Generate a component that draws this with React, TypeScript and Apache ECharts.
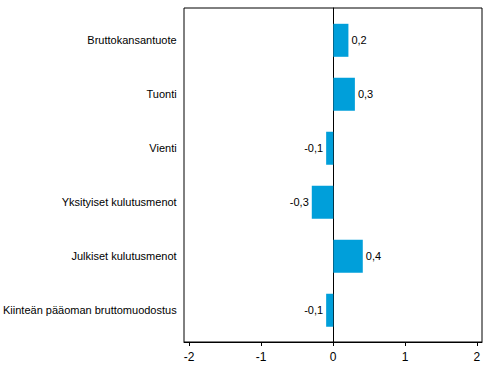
import React, { useEffect, useRef } from "react";
import * as echarts from "echarts";

const categories = [
  "Bruttokansantuote",
  "Tuonti",
  "Vienti",
  "Yksityiset kulutusmenot",
  "Julkiset kulutusmenot",
  "Kiinteän pääoman bruttomuodostus",
];
const values = [0.21, 0.3, -0.1, -0.3, 0.41, -0.1];
const tickValues = [-2, -1, 0, 1, 2];
const X_MIN = -2.07;
const X_MAX = 2.07;

export default function App() {
  const ref = useRef<HTMLDivElement>(null);
  useEffect(() => {
    document.body.style.margin = "0";
    const chart = echarts.init(ref.current!, undefined, { renderer: "svg" });
    chart.setOption({
      animation: false,
      textStyle: { fontFamily: "Liberation Sans, Arial, sans-serif" },
      grid: [
        {
          left: 184,
          top: 8,
          width: 298,
          height: 334,
          show: true,
          borderColor: "#000",
          borderWidth: 1,
          backgroundColor: "transparent",
        },
        {
          left: 184,
          top: 13.3,
          width: 298,
          height: 324,
        },
      ],
      xAxis: [
        {
          gridIndex: 0,
          type: "value",
          min: X_MIN,
          max: X_MAX,
          axisLine: { show: true, onZero: false, lineStyle: { color: "#000", width: 1 } },
          axisTick: {
            show: true,
            length: 4,
            lineStyle: { color: "#000" },
            customValues: tickValues,
          },
          axisLabel: {
            color: "#000",
            fontSize: 12,
            margin: 9,
            customValues: tickValues,
            formatter: (v: number) => String(v),
          },
          splitLine: { show: false },
        },
        {
          gridIndex: 1,
          type: "value",
          min: X_MIN,
          max: X_MAX,
          show: false,
        },
      ],
      yAxis: [
        {
          gridIndex: 0,
          type: "value",
          min: 0,
          max: 1,
          axisLine: { show: true, onZero: true, lineStyle: { color: "#000", width: 1 } },
          axisTick: { show: false },
          axisLabel: { show: false },
          splitLine: { show: false },
        },
        {
          gridIndex: 1,
          type: "category",
          inverse: true,
          data: categories,
          axisLine: { show: false },
          axisTick: { show: false },
          axisLabel: { color: "#000", fontSize: 11, margin: 8 },
          splitLine: { show: false },
        },
      ],
      series: [
        {
          type: "bar",
          xAxisIndex: 1,
          yAxisIndex: 1,
          barWidth: 33,
          z: 1,
          itemStyle: { color: "#009FDA" },
          data: values.map((v) => ({
            value: v,
            label: {
              show: true,
              position: v >= 0 ? "right" : "left",
              distance: 3,
              color: "#000",
              fontSize: 11,
              formatter: () => v.toFixed(1).replace(".", ","),
            },
          })),
        },
      ],
    });
    return () => chart.dispose();
  }, []);
  return <div ref={ref} style={{ width: 491, height: 377 }} />;
}
